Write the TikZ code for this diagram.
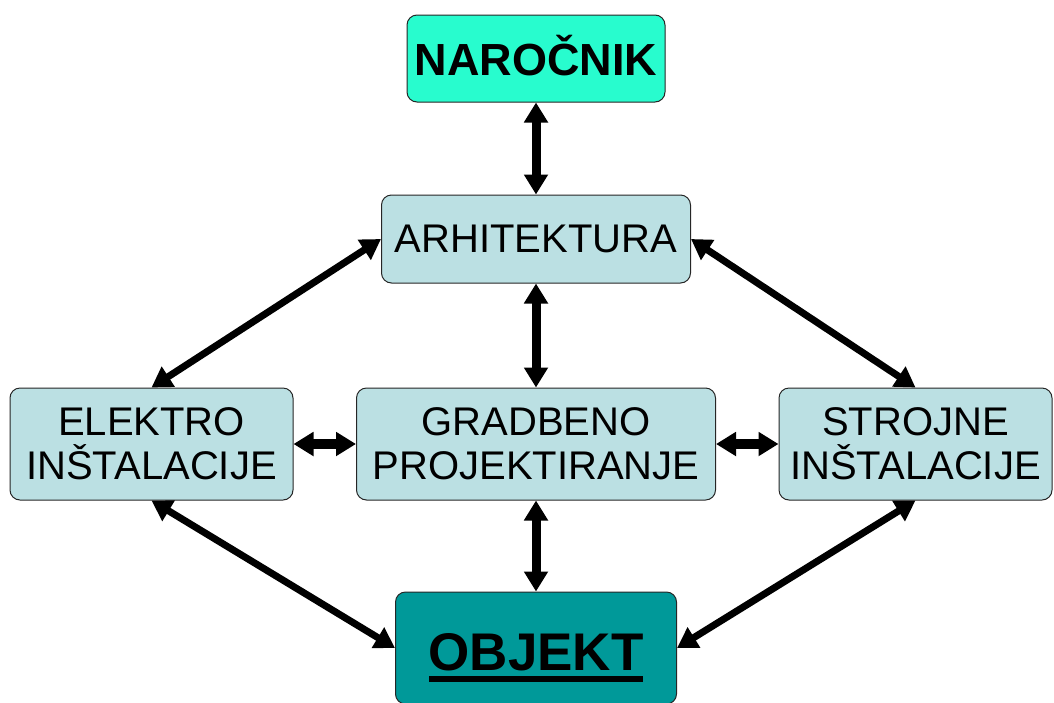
\documentclass[tikz,border=0pt]{standalone}
\usepackage{fontspec}
\setmainfont{Liberation Sans}
\usepackage{xcolor}
\usetikzlibrary{arrows.meta}

\definecolor{narocnikfill}{RGB}{40,252,206}
\definecolor{boxfill}{RGB}{187,224,227}
\definecolor{objektfill}{RGB}{0,153,153}

% thick underline for the object label
\newcommand{\objline}[1]{\vtop{\hbox{#1}\kern5pt\hrule height 6pt}}

\begin{document}
\begin{tikzpicture}[x=1pt, y=-1pt,
    >={Triangle[length=20pt, width=23pt]},
    box/.style={draw=black!85, line width=1pt, rounded corners=10pt, fill=boxfill,
        font=\fontsize{40}{44}\selectfont, align=center, inner sep=0pt},
    link/.style={<->, line width=7pt}]
    \useasboundingbox (0,0) rectangle (1054,702);
    \clip (0,0) rectangle (1054,702);

    % Client and architecture
    \node[box, fill=narocnikfill, minimum width=258pt, minimum height=87pt,
        font=\fontsize{45}{50}\selectfont\bfseries, text height=33pt, text depth=0pt]
        (narocnik) at (536,58.5) {NAROČNIK};
    \node[box, minimum width=309pt, minimum height=88pt] (arhitektura) at (536,239) {ARHITEKTURA};

    % Middle row
    \node[box, minimum width=283pt, minimum height=112pt] (elektro) at (151.5,444) {ELEKTRO\\INŠTALACIJE};
    \node[box, minimum width=359pt, minimum height=112pt] (gradbeno) at (536,444) {GRADBENO\\PROJEKTIRANJE};
    \node[box, minimum width=273pt, minimum height=112pt] (strojne) at (915.5,444) {STROJNE\\INŠTALACIJE};

    % Object
    \node[box, fill=objektfill, minimum width=281pt, minimum height=112pt,
        font=\fontsize{53}{58}\selectfont\bfseries, text height=60pt, text depth=16pt]
        (objekt) at (536,648) {\objline{OBJEKT}};

    % Vertical links
    \draw[link, line width=9pt] (narocnik) -- (arhitektura);
    \draw[link, line width=9pt] (arhitektura) -- (gradbeno);
    \draw[link, line width=9pt] (gradbeno) -- (objekt);

    % Horizontal links
    \draw[link, line width=10pt] (elektro) -- (gradbeno);
    \draw[link, line width=10pt] (gradbeno) -- (strojne);

    % Diagonal links
    \draw[link] (arhitektura.west) -- (elektro.north);
    \draw[link] (arhitektura.east) -- (strojne.north);
    \draw[link] (elektro.south) -- (objekt.west);
    \draw[link] (strojne.south) -- (objekt.east);
\end{tikzpicture}
\end{document}
